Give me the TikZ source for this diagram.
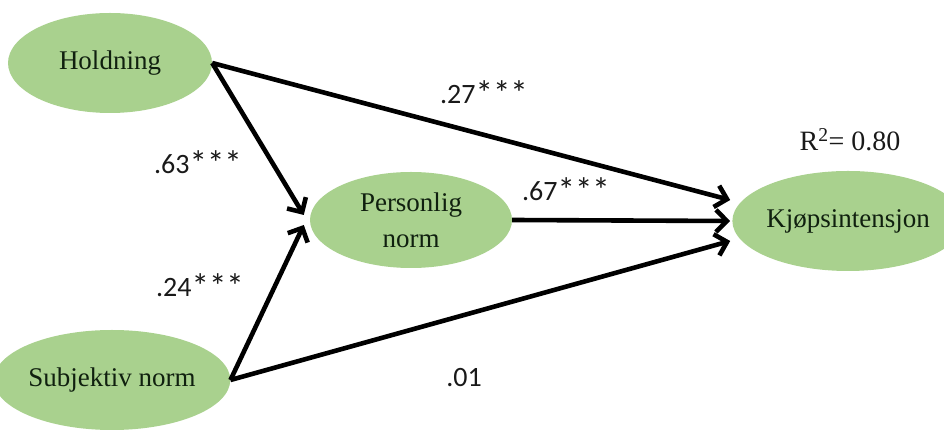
\documentclass[tikz,border=0pt]{standalone}
\usepackage{fontspec}
\setmainfont{Liberation Serif}
\newfontfamily\lblfont{Carlito}
\usetikzlibrary{shapes.geometric,arrows.meta,calc}
\definecolor{ellfill}{HTML}{A9D18E}
\definecolor{nodetext}{HTML}{10200F}
\newcommand{\stars}{{\fontsize{35}{30}\selectfont\raisebox{-2pt}{***}}}
\begin{document}
\begin{tikzpicture}[x=1pt,y=1pt,
  var/.style={ellipse,fill=ellfill,inner sep=0pt,text=nodetext,
    font=\fontsize{27}{36}\selectfont,align=center},
  path/.style={line width=4.6pt,-{Straight Barb[length=11pt,width=22pt,line width=4.6pt]}},
  coef/.style={font=\lblfont\fontsize{28}{30}\selectfont,text=black!90}]
\useasboundingbox (0,0) rectangle (944,430);
\node[var,minimum width=204pt,minimum height=100pt] (H) at (110,367) {Holdning};
\node[var,minimum width=202pt,minimum height=96pt] (P) at (411,210) {Personlig\\norm};
\node[var,minimum width=192pt,minimum height=100pt] (K) at (848,209) {Kjøpsintensjon};
\node[var,minimum width=208pt,minimum height=100pt] (S) at (112,50) {Subjektiv norm};
\coordinate (Kt) at ($(K.west)+(-2,21)$);
\coordinate (Km) at ($(K.west)+(-2,0)$);
\coordinate (Kb) at ($(K.west)+(-2,-20)$);
\coordinate (Pt) at ($(P.west)+(-6,5)$);
\coordinate (Pb) at ($(P.west)+(-6,-5)$);
\draw[path] (H.east) -- (Kt);
\draw[path] (H.east) -- (Pt);
\draw[path] (S.east) -- (Pb);
\draw[path] (S.east) -- (Kb);
\draw[path] (P.east) -- (Km);
\node[coef] (c27) at (484,337) {.27\stars};
\node[coef] (c63) at (198,267) {.63\stars};
\node[coef] (c67) at (566,240) {.67\stars};
\node[coef] (c24) at (200,144) {.24\stars};
\node[coef] (c01) at (464,52) {.01};
\node[font=\fontsize{28}{30}\selectfont,text=black!90] (r2) at (850,290) {R\textsuperscript{2}= 0.80};
\end{tikzpicture}
\end{document}
